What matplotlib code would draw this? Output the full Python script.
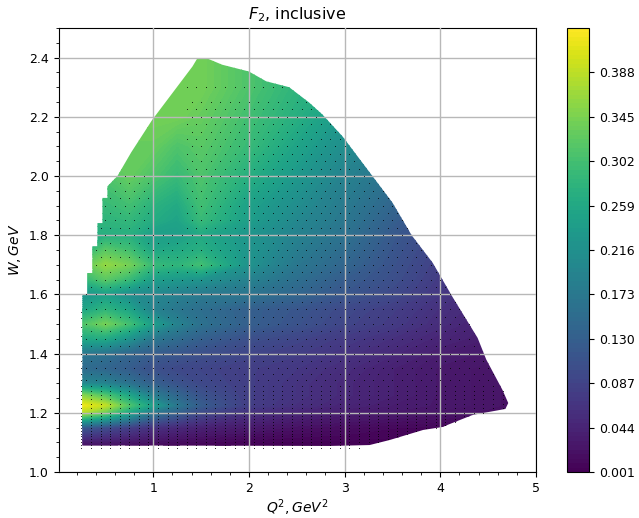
''' F2 inclusive map in Q2 and W '''
import numpy as np
import matplotlib
matplotlib.use('Agg')
import matplotlib.pyplot as plt
from matplotlib.path import Path
from matplotlib.patches import Polygon
from matplotlib.ticker import AutoMinorLocator

q2_nodes = [0.25, 0.5, 0.75, 1.0, 1.25, 1.5, 2.0, 2.5, 3.0, 3.5, 4.0, 4.5, 4.75]
w_nodes = [1.08, 1.10, 1.15, 1.20, 1.225, 1.26, 1.30, 1.35, 1.40, 1.45, 1.50,
           1.55, 1.60, 1.65, 1.70, 1.75, 1.80, 1.85, 1.90, 2.00, 2.10, 2.20,
           2.30, 2.40]
f2_values = [
    [.010, .008, .006, .005, .004, .004, .003, .002, .002, .002, .002, .002, .002],
    [.030, .030, .025, .020, .015, .010, .006, .004, .004, .003, .003, .003, .003],
    [.120, .100, .080, .060, .050, .040, .030, .020, .015, .010, .008, .006, .005],
    [.380, .330, .250, .170, .130, .095, .060, .045, .035, .030, .025, .020, .015],
    [.420, .390, .310, .240, .170, .125, .080, .060, .045, .035, .030, .025, .020],
    [.350, .310, .250, .180, .140, .110, .080, .065, .050, .040, .030, .025, .020],
    [.200, .190, .160, .130, .110, .095, .080, .065, .050, .040, .030, .025, .020],
    [.150, .140, .125, .105, .095, .090, .080, .070, .055, .040, .030, .025, .020],
    [.170, .160, .140, .125, .115, .105, .090, .080, .065, .050, .035, .030, .025],
    [.260, .260, .220, .170, .150, .130, .105, .090, .075, .060, .045, .035, .030],
    [.310, .340, .300, .240, .190, .160, .130, .110, .090, .075, .055, .040, .035],
    [.250, .280, .250, .190, .170, .155, .130, .115, .095, .080, .060, .045, .040],
    [.220, .240, .210, .200, .185, .175, .165, .140, .115, .095, .070, .050, .040],
    [.280, .320, .290, .240, .230, .220, .190, .155, .125, .105, .075, .055, .045],
    [.320, .360, .340, .290, .280, .300, .220, .170, .140, .110, .080, .060, .050],
    [.270, .320, .300, .255, .260, .270, .225, .180, .150, .115, .085, .065, .055],
    [.270, .270, .270, .240, .240, .260, .225, .190, .160, .120, .090, .070, .060],
    [.280, .280, .285, .265, .250, .290, .240, .200, .170, .130, .095, .075, .065],
    [.290, .290, .300, .275, .260, .300, .245, .210, .175, .140, .105, .080, .070],
    [.300, .310, .330, .310, .290, .310, .270, .230, .190, .160, .120, .090, .080],
    [.320, .330, .330, .330, .310, .320, .290, .250, .210, .180, .140, .100, .090],
    [.330, .330, .340, .340, .340, .330, .300, .270, .230, .190, .150, .120, .100],
    [.330, .330, .340, .350, .340, .340, .310, .280, .260, .210, .170, .140, .120],
    [.330, .330, .340, .350, .340, .340, .310, .280, .260, .210, .170, .140, .120],
]

edge_q2 = [0.26, 0.26, 0.312, 0.312, 0.365, 0.365, 0.417, 0.417, 0.469, 0.469,
           0.521, 0.521, 0.626, 0.77, 0.99, 1.20, 1.41,
           1.46, 1.565, 1.72, 2.00, 2.18, 2.42, 2.63, 2.77, 2.98, 3.29, 3.50, 3.70,
           3.92, 4.13, 4.39, 4.48, 4.65, 4.71, 4.68, 4.34, 4.02, 3.82, 3.47, 3.26,
           2.84]
edge_w = [1.09, 1.60, 1.60, 1.672, 1.672, 1.762, 1.762, 1.841, 1.841, 1.926,
          1.926, 1.965, 2.00, 2.08, 2.19, 2.28, 2.37,
          2.397, 2.397, 2.376, 2.353, 2.32, 2.30, 2.248, 2.207, 2.133, 2.00, 1.91,
          1.80, 1.707, 1.59, 1.453, 1.38, 1.277, 1.233, 1.213, 1.193, 1.152, 1.142,
          1.108, 1.091, 1.088]

dots_w = [1.08, 1.09, 1.10, 1.11, 1.12, 1.13, 1.14, 1.15, 1.16, 1.17, 1.18, 1.19,
          1.20, 1.215, 1.23, 1.245, 1.26, 1.275, 1.29, 1.31, 1.33, 1.35, 1.375,
          1.40, 1.425, 1.45, 1.475, 1.50, 1.525, 1.55, 1.575, 1.60, 1.625, 1.65,
          1.675, 1.70, 1.725, 1.75, 1.775, 1.80, 1.825, 1.85, 1.875, 1.90, 1.925,
          1.95, 1.975, 2.00, 2.025, 2.05, 2.075, 2.10, 2.125, 2.15, 2.175, 2.20,
          2.225, 2.25, 2.30]
dots_q2_a = [0.35, 0.45, 0.55, 0.65, 0.75, 0.85, 0.95, 1.05, 1.15, 1.25, 1.35, 1.45,
             1.55, 1.65, 1.75, 1.85, 1.95, 2.05, 2.15, 2.25, 2.35, 2.45, 2.55, 2.65,
             2.75, 2.85, 2.95, 3.05, 3.15, 3.25, 3.35, 3.45, 3.55, 3.65, 3.75, 3.85,
             3.95, 4.05, 4.15, 4.25, 4.35, 4.45, 4.55, 4.65]
dots_q2_b = [0.30, 0.40, 0.50, 0.60, 0.70, 0.80, 0.90, 1.00, 1.10, 1.20, 1.30, 1.40,
             1.50, 1.60, 1.70, 1.80, 1.90, 2.00, 2.10, 2.20, 2.30, 2.40, 2.50, 2.60,
             2.70, 2.80, 2.90, 3.00, 3.10, 3.20, 3.30, 3.40, 3.50, 3.60, 3.70, 3.80,
             3.90, 4.00, 4.10, 4.20, 4.30, 4.40, 4.50, 4.60, 4.70]
dots_left_w = [1.08, 1.09, 1.10, 1.11, 1.12, 1.13, 1.14, 1.15, 1.16, 1.17, 1.18, 1.19,
               1.20, 1.215, 1.23, 1.245, 1.26, 1.275, 1.29, 1.31, 1.33, 1.35, 1.375,
               1.40, 1.43, 1.46, 1.49, 1.52, 1.54]

cbar_ticks = [0.001, 0.044, 0.087, 0.130, 0.173, 0.216, 0.259, 0.302, 0.345, 0.388]


def main():
    ''' main function'''
    fig = plt.figure(figsize=(6.39, 5.18), dpi=100)
    ax = fig.add_axes([58.5 / 639, 46 / 518, 477.5 / 639, 444 / 518])
    cax = fig.add_axes([567 / 639, 46 / 518, 22 / 639, 444 / 518])

    levels = np.linspace(0.001, 0.431, 101)
    cs = ax.contourf(q2_nodes, w_nodes, f2_values, levels=levels, cmap='viridis',
                     extend='neither')
    outline = list(zip(edge_q2, edge_w))
    cs.set_clip_path(Polygon(outline, closed=True, transform=ax.transData))

    inside = Path(outline)
    x = []
    y = []
    for i, w in enumerate(dots_w):
        row = dots_q2_a if (i % 2 == 0 or w < 1.3) else dots_q2_b
        for q in row:
            if q < 1.33 and w > 2.0:
                continue
            if 0.98 < q < 1.33 and w > 1.8:
                continue
            if inside.contains_point((q, w)) or w < 1.09 and q < 3.2:
                x.append(q)
                y.append(w)
    x = x + [0.25] * len(dots_left_w)
    y = y + dots_left_w
    ax.scatter(x, y, s=0.35, c='k', linewidths=0, zorder=3)

    ax.set_xlim(0.01, 5)
    ax.set_ylim(1.0, 2.5)
    ax.xaxis.set_minor_locator(AutoMinorLocator())
    ax.yaxis.set_minor_locator(AutoMinorLocator())
    ax.tick_params(labelsize=9)
    ax.grid(True, which='major', color='#b8b8b8', linewidth=1.0, zorder=4)
    ax.set_axisbelow(False)
    ax.set_xlabel(r'$Q^2, GeV^2$', fontsize=10, labelpad=2)
    ax.set_ylabel(r'$W, GeV$', fontsize=10)
    ax.set_title(r'$F_2$, inclusive', fontsize=11.5)

    cbar = fig.colorbar(cs, cax=cax, ticks=cbar_ticks)
    cbar.ax.set_yticklabels(['%.3f' % t for t in cbar_ticks])
    cbar.ax.tick_params(labelsize=9)

    fig.savefig('out.png', dpi=100)


if __name__ == '__main__':
    main()
